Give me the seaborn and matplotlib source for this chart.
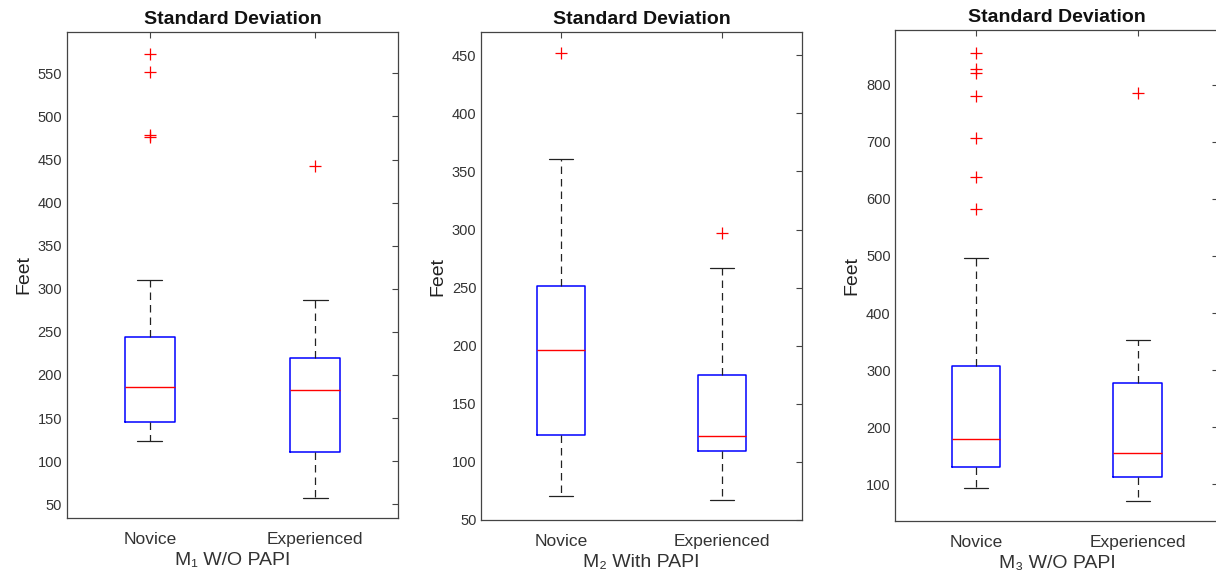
import matplotlib
matplotlib.use("Agg")
import matplotlib.pyplot as plt
import seaborn as sns

# groups on the x axis
categories = ["Novice", "Experienced"]
panel_labels = ["M\u2081 W/O PAPI", "M\u2082 With PAPI", "M\u2083 W/O PAPI"]

# M1 W/O PAPI (novice, experienced)
m1_whislo = [123, 57]
m1_q1 = [145, 111]
m1_med = [186, 182]
m1_q3 = [244, 220]
m1_whishi = [310, 287]
m1_fliers = [[573, 552, 478, 476], [442]]

# M2 With PAPI
m2_whislo = [71, 67]
m2_q1 = [123, 109]
m2_med = [196, 122]
m2_q3 = [251, 175]
m2_whishi = [361, 267]
m2_fliers = [[452], [297]]

# M3 W/O PAPI
m3_whislo = [94, 71]
m3_q1 = [130, 112]
m3_med = [180, 155]
m3_q3 = [307, 277]
m3_whishi = [496, 353]
m3_fliers = [[855, 827, 820, 780, 706, 639, 583], [785]]

panels = [
    (m1_whislo, m1_q1, m1_med, m1_q3, m1_whishi, m1_fliers),
    (m2_whislo, m2_q1, m2_med, m2_q3, m2_whishi, m2_fliers),
    (m3_whislo, m3_q1, m3_med, m3_q3, m3_whishi, m3_fliers),
]

sns.set_theme(style="white")
plt.rcParams["font.family"] = ["Liberation Sans", "DejaVu Sans"]

AX_COLOR = "#444444"
rects = [
    (0.0551, 0.1023, 0.2722, 0.8422),
    (0.3958, 0.0988, 0.2635, 0.8457),
    (0.7364, 0.0976, 0.2656, 0.8504),
]
ylims = [(34, 598), (50, 470), (36, 896)]
yticks = [range(50, 551, 50), range(50, 451, 50), range(100, 801, 100)]

fig = plt.figure(figsize=(12.16, 5.77), dpi=100)

for i, (wlo, q1, med, q3, whi, fl) in enumerate(panels):
    ax = fig.add_axes(rects[i])
    stats = [
        dict(label=categories[j], whislo=wlo[j], q1=q1[j], med=med[j],
             q3=q3[j], whishi=whi[j], fliers=fl[j])
        for j in range(len(categories))
    ]
    ax.bxp(
        stats, positions=[1, 2], widths=0.3,
        boxprops=dict(color="blue", lw=1.1),
        medianprops=dict(color="red", lw=1.0),
        whiskerprops=dict(color="#222222", lw=0.9, linestyle=(0, (6, 4))),
        capprops=dict(color="#222222", lw=0.9),
        flierprops=dict(marker="+", markeredgecolor="red", markersize=8,
                        markeredgewidth=0.9, linestyle="none"),
    )
    ax.set_xlim(0.5, 2.5)
    ax.set_ylim(*ylims[i])
    ax.set_yticks(list(yticks[i]))
    ax.set_xticks([1, 2], categories)

    ax.tick_params(direction="in", top=True, right=True, length=4, width=0.8,
                   color=AX_COLOR, labelcolor="#333333", labelsize=10.5)
    ax.tick_params(axis="x", labelsize=12.5, pad=10)
    for sp in ax.spines.values():
        sp.set_color(AX_COLOR)
        sp.set_linewidth(0.9)

    ax.set_title("Standard Deviation", fontweight="bold", fontsize=14,
                 pad=6, color="#111111")
    ax.set_ylabel("Feet", fontsize=14, labelpad=4, color="#222222")
    ax.set_xlabel(panel_labels[i], fontsize=14, labelpad=4, color="#333333")

fig.savefig("out.png", dpi=100)
